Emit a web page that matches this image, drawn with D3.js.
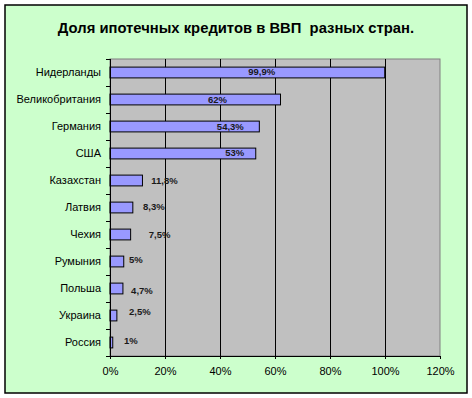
<!DOCTYPE html>
<html>
<head>
<meta charset="utf-8">
<script src="https://cdn.jsdelivr.net/npm/d3@7"></script>
<style>
  body { margin: 0; background: #fff; }
  svg { display: block; font-family: "Liberation Sans", Arial, sans-serif; }
</style>
</head>
<body>
<div id="chart"></div>
<script>
const title = "Доля ипотечных кредитов в ВВП  разных стран.";

const countries = ["Нидерланды", "Великобритания", "Германия", "США", "Казахстан",
  "Латвия", "Чехия", "Румыния", "Польша", "Украина", "Россия"];
const shares = [99.9, 62, 54.3, 53, 11.8, 8.3, 7.5, 5, 4.7, 2.5, 1];
const xTicks = [0, 20, 40, 60, 80, 100, 120];

// label nudges from the bar end (px), as placed in the original
const labelDx = [-123, -63, -29, -21, 22, 21, 29, 12, 19, 23, 18];
const labelDy = [-1, 0.5, 0, -1, 0.5, -1, 0.5, -1.5, 2.5, -4, -1.5];

const W = 472, H = 398;
const plot = { left: 110, right: 440, top: 59, bottom: 356 };

const svg = d3.select("#chart").append("svg")
  .attr("width", W)
  .attr("height", H);

// chart area
svg.append("rect")
  .attr("x", 5).attr("y", 5)
  .attr("width", 462).attr("height", 388)
  .attr("fill", "#CCFFCC")
  .attr("stroke", "#000")
  .attr("stroke-width", 1.5);

svg.append("text")
  .attr("x", 236).attr("y", 32.5)
  .attr("text-anchor", "middle")
  .style("font-size", "14.8px")
  .style("font-weight", "bold")
  .style("white-space", "pre")
  .text(title);

const x = d3.scaleLinear().domain([0, 120]).range([plot.left, plot.right]);
const y = d3.scaleBand().domain(countries)
  .range([plot.top, plot.bottom])
  .paddingInner(0.6).paddingOuter(0.3);

// plot area
svg.append("rect")
  .attr("x", plot.left).attr("y", plot.top)
  .attr("width", plot.right - plot.left)
  .attr("height", plot.bottom - plot.top)
  .attr("fill", "#C0C0C0")
  .attr("stroke", "#808080")
  .attr("stroke-width", 1);

// gridlines
svg.append("g")
  .selectAll("line")
  .data(xTicks.filter(t => t > 0 && t < 120))
  .join("line")
  .attr("x1", d => Math.round(x(d)) + 0.5).attr("x2", d => Math.round(x(d)) + 0.5)
  .attr("y1", plot.top).attr("y2", plot.bottom)
  .attr("stroke", "#000");

// bars
svg.append("g")
  .selectAll("rect")
  .data(countries)
  .join("rect")
  .attr("x", x(0))
  .attr("y", d => y(d))
  .attr("width", (d, i) => x(shares[i]) - x(0))
  .attr("height", y.bandwidth())
  .attr("fill", "#9999FF")
  .attr("stroke", "#000")
  .attr("stroke-width", 1);

// value labels
svg.append("g")
  .selectAll("text")
  .data(countries)
  .join("text")
  .attr("x", (d, i) => x(shares[i]) + labelDx[i])
  .attr("y", (d, i) => y(d) + y.bandwidth() / 2 + labelDy[i])
  .attr("dy", "0.35em")
  .attr("text-anchor", "middle")
  .style("font-size", "9.5px")
  .style("font-weight", "bold")
  .attr("fill", "#1a1a1a")
  .text((d, i) => String(shares[i]).replace(".", ",") + "%");

// left axis
const yAxis = svg.append("g");
yAxis.append("line")
  .attr("x1", plot.left + 0.5).attr("x2", plot.left + 0.5)
  .attr("y1", plot.top).attr("y2", plot.bottom)
  .attr("stroke", "#000");
const step = y.step();
const bounds = d3.range(countries.length + 1).map(k => plot.top + k * step);
yAxis.selectAll("line.tick")
  .data(bounds)
  .join("line")
  .attr("class", "tick")
  .attr("x1", plot.left - 4).attr("x2", plot.left)
  .attr("y1", d => Math.round(d) + 0.5).attr("y2", d => Math.round(d) + 0.5)
  .attr("stroke", "#000");
yAxis.selectAll("text")
  .data(countries)
  .join("text")
  .attr("x", plot.left - 9)
  .attr("y", d => y(d) + y.bandwidth() / 2)
  .attr("dy", "0.35em")
  .attr("text-anchor", "end")
  .style("font-size", "11px")
  .text(d => d);

// bottom axis
const xAxis = svg.append("g")
  .attr("transform", `translate(0,${plot.bottom})`)
  .call(d3.axisBottom(x).tickValues(xTicks).tickSize(3).tickPadding(8)
    .tickFormat(d => d + "%"));
xAxis.select(".domain").attr("stroke", "#000");
xAxis.selectAll(".tick line").attr("stroke", "#000");
xAxis.selectAll("text")
  .style("font-size", "11px")
  .style("font-family", "'Liberation Sans', Arial, sans-serif")
  .attr("fill", "#000");
</script>
</body>
</html>
